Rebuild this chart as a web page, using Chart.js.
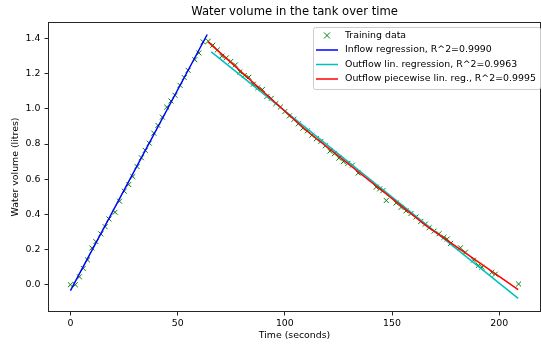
<!DOCTYPE html>
<html>
<head>
<meta charset="utf-8">
<script src="https://cdn.jsdelivr.net/npm/chart.js@4/dist/chart.umd.min.js"></script>
<style>
  html, body { margin: 0; padding: 0; background: #fff; overflow: hidden; }
</style>
</head>
<body>
<canvas id="grafico" width="546" height="346"></canvas>
<script>
// --- DATOS ---
const titulo = 'Water volume in the tank over time';

// Datos de entrenamiento (llenado)
const llenadoT = [0, 2.3, 4.2, 6.0, 8.0, 10.0, 11.9, 14.2, 16.2, 18.0, 20.8, 22.9, 25.1, 27.2, 29.1,
  31.1, 33.1, 34.9, 36.8, 38.9, 40.8, 42.9, 44.9, 46.9, 48.8, 51.1, 53.1, 54.9, 58.0, 59.9, 61.9];
const llenadoV = [0.0, 0.0, 0.045, 0.093, 0.141, 0.209, 0.245, 0.289, 0.330, 0.374, 0.412, 0.475, 0.532, 0.570, 0.615,
  0.672, 0.722, 0.764, 0.805, 0.862, 0.906, 0.953, 1.010, 1.045, 1.077, 1.134, 1.178, 1.219, 1.280, 1.318, 1.381];

// Datos de entrenamiento (vaciado)
const vaciadoT = [64.3, 66.4, 68.5, 70.6, 72.7, 74.8, 76.9, 79.0, 81.1, 83.2, 85.3, 87.4, 89.5, 91.6, 93.7,
  95.8, 97.9, 100.0, 102.1, 104.2, 106.3, 108.4, 110.5, 112.6, 114.7, 116.8, 118.9, 121.0, 123.1, 125.2,
  127.3, 129.4, 131.5, 134.2, 142.6, 144.2, 145.7, 147.3, 151.9, 154.2, 156.5, 158.8, 161.1, 163.4, 165.5,
  167.3, 169.6, 171.9, 174.2, 175.7, 177.3, 181.9, 184.2, 188.0, 190.3, 191.9, 196.5, 198.1, 209.0];
const vaciadoV = [1.385, 1.362, 1.335, 1.300, 1.290, 1.270, 1.250, 1.210, 1.190, 1.180, 1.140, 1.120, 1.110, 1.070, 1.060,
  1.030, 1.010, 0.985, 0.960, 0.940, 0.915, 0.890, 0.875, 0.850, 0.830, 0.815, 0.790, 0.760, 0.745, 0.720,
  0.700, 0.690, 0.680, 0.635, 0.555, 0.545, 0.535, 0.479, 0.465, 0.440, 0.420, 0.405, 0.385, 0.360, 0.345,
  0.325, 0.305, 0.290, 0.270, 0.260, 0.235, 0.210, 0.185, 0.140, 0.110, 0.100, 0.070, 0.060, 0.004];

// Rectas de regresion
const regLlenadoT = [0, 63.8];
const regLlenadoV = [-0.034, 1.423];
const regVaciadoT = [65.7, 208.8];
const regVaciadoV = [1.324, -0.078];
const tramosT = [64.2, 110, 166, 208.8];
const tramosV = [1.381, 0.877, 0.335, -0.028];

const etiquetas = [
  'Training data',
  'Inflow regression, R^2=0.9990',
  'Outflow lin. regression, R^2=0.9963',
  'Outflow piecewise lin. reg., R^2=0.9995'
];
const colores = ['#008000', '#0000ff', '#00bfbf', '#ff0000'];

const ticksX = [0, 50, 100, 150, 200];
const ticksY = [0, 0.2, 0.4, 0.6, 0.8, 1.0, 1.2, 1.4];

const aPuntos = (ts, vs) => ts.map((t, i) => ({ x: t, y: vs[i] }));

// --- TITULO, MARCO Y LEYENDA ---
const decoracion = {
  id: 'decoracion',
  afterDraw(chart) {
    const { ctx, chartArea: a } = chart;
    ctx.save();
    ctx.strokeStyle = '#262626';
    ctx.lineWidth = 1;
    ctx.strokeRect(a.left + 0.5, a.top + 0.5, a.right - a.left - 1, a.bottom - a.top - 1);

    ctx.fillStyle = '#000';
    ctx.textAlign = 'center';
    ctx.textBaseline = 'middle';
    ctx.font = '11.6px "DejaVu Sans"';
    ctx.fillText(titulo, (a.left + a.right) / 2, 12);

    // leyenda
    const bx = 313.5, by = 27.5, bw = 227, bh = 62;
    ctx.beginPath();
    ctx.roundRect(bx, by, bw, bh, 2);
    ctx.fillStyle = 'rgba(255,255,255,0.8)';
    ctx.fill();
    ctx.strokeStyle = '#cccccc';
    ctx.stroke();

    ctx.font = '9.4px "DejaVu Sans"';
    ctx.textAlign = 'left';
    etiquetas.forEach((txt, i) => {
      const y = 35.5 + i * 14.5;
      ctx.strokeStyle = colores[i];
      if (i === 0) {
        ctx.lineWidth = 1;
        ctx.beginPath();
        ctx.moveTo(324, y - 3); ctx.lineTo(330, y + 3);
        ctx.moveTo(324, y + 3); ctx.lineTo(330, y - 3);
        ctx.stroke();
      } else {
        ctx.lineWidth = 1.5;
        ctx.beginPath();
        ctx.moveTo(316, y); ctx.lineTo(338, y);
        ctx.stroke();
      }
      ctx.fillStyle = '#000';
      ctx.fillText(txt, 345, y);
    });
    ctx.restore();
  }
};

Chart.defaults.font.family = '"DejaVu Sans"';
Chart.defaults.font.size = 9.4;
Chart.defaults.color = '#000';

const lineaComun = { showLine: true, pointRadius: 0, borderWidth: 1.5, fill: false };

new Chart(document.getElementById('grafico'), {
  type: 'scatter',
  data: {
    datasets: [
      {
        label: etiquetas[0],
        data: aPuntos(llenadoT, llenadoV).concat(aPuntos(vaciadoT, vaciadoV)),
        pointStyle: 'crossRot',
        pointRadius: 3.5,
        borderWidth: 1,
        borderColor: colores[0],
        backgroundColor: colores[0],
        order: 5
      },
      { ...lineaComun, label: etiquetas[1], data: aPuntos(regLlenadoT, regLlenadoV), borderColor: colores[1], order: 3 },
      { ...lineaComun, label: etiquetas[2], data: aPuntos(regVaciadoT, regVaciadoV), borderColor: colores[2], order: 2 },
      { ...lineaComun, label: etiquetas[3], data: aPuntos(tramosT, tramosV), borderColor: colores[3], order: 1 }
    ]
  },
  options: {
    responsive: false,
    animation: false,
    layout: { padding: { top: 22, left: 0, right: 0, bottom: 0 } },
    plugins: {
      legend: { display: false },
      title: { display: false },
      tooltip: { enabled: false }
    },
    scales: {
      x: {
        type: 'linear',
        min: -10.45,
        max: 219.45,
        afterBuildTicks: s => { s.ticks = ticksX.map(v => ({ value: v })); },
        afterFit: s => { s.height = 34; },
        ticks: { padding: 2, color: '#000', callback: v => String(v) },
        grid: { drawOnChartArea: false, drawTicks: true, tickLength: 3.5, color: '#262626' },
        border: { display: false },
        title: { display: true, text: 'Time (seconds)', color: '#000', padding: { top: 0, bottom: 4.5 } }
      },
      y: {
        type: 'linear',
        min: -0.155,
        max: 1.494,
        afterBuildTicks: s => { s.ticks = ticksY.map(v => ({ value: v })); },
        afterFit: s => { s.width = 48; },
        ticks: { padding: 4, color: '#000', callback: v => v.toFixed(1) },
        grid: { drawOnChartArea: false, drawTicks: true, tickLength: 3.5, color: '#262626' },
        border: { display: false },
        title: { display: true, text: 'Water volume (litres)', color: '#000', padding: { top: 10, bottom: 0 } }
      }
    }
  },
  plugins: [decoracion]
});
</script>
</body>
</html>
